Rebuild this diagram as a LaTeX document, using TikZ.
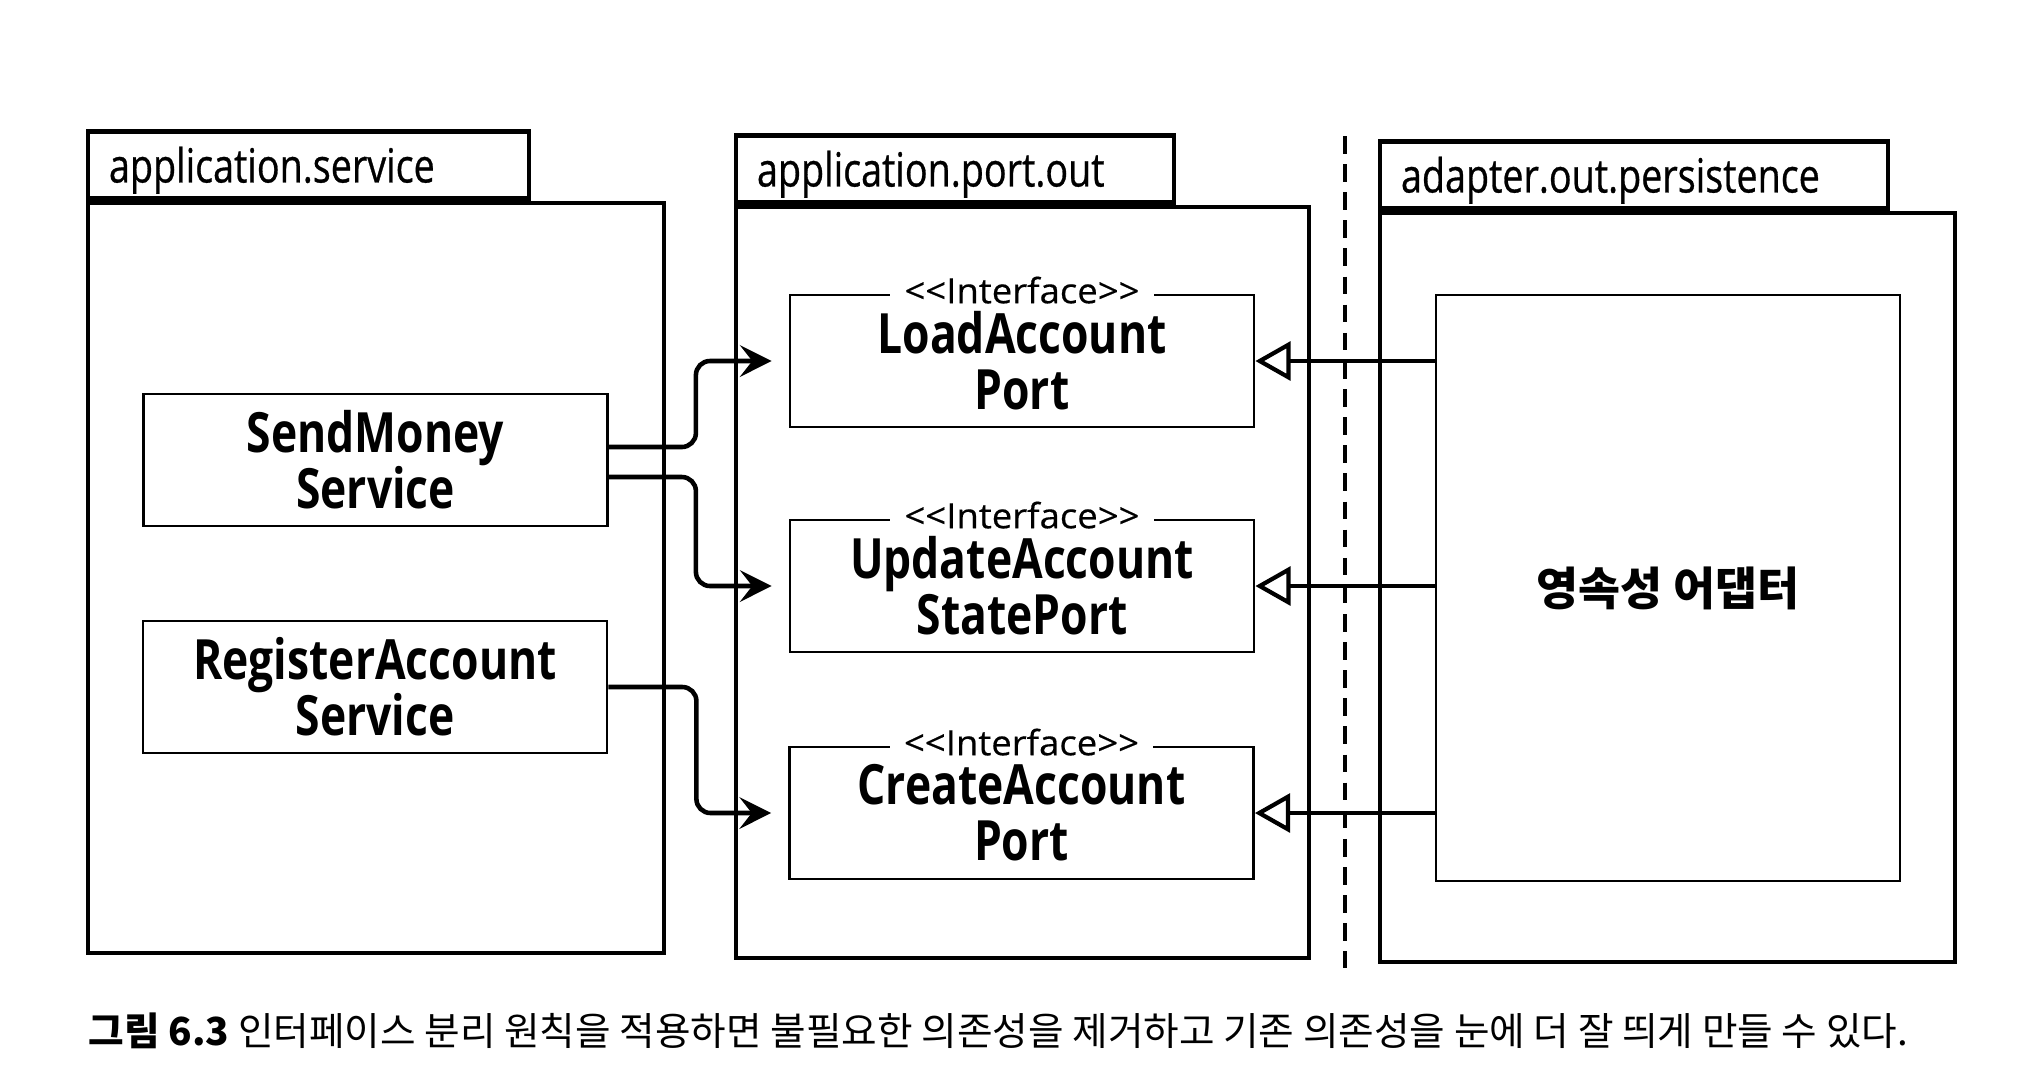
\documentclass[tikz,border=0pt]{standalone}
\usepackage{fontspec}
\usetikzlibrary{arrows.meta,positioning}
\newfontfamily\latinfont{Open Sans}[FakeStretch=0.8]
\newfontfamily\labelfont{Open Sans}[FakeStretch=0.8,FakeBold=0.6]
\newfontfamily\stereofont{Open Sans}[FakeStretch=1.05,FakeBold=0.4]
\newfontfamily\korfont{Noto Sans CJK KR}
\begin{document}
\begin{tikzpicture}[
    pkgbody/.style = {draw, line width=1.4pt, inner sep=0pt},
    pkgtab/.style = {draw, line width=1.4pt, anchor=south west, inner xsep=0.21cm, inner ysep=0pt,
                     minimum height=0.67cm, text depth=0pt, align=left, font=\labelfont\fontsize{13.4}{15}\selectfont},
    classbox/.style = {draw, line width=0.8pt, inner sep=0pt, minimum width=4.64cm, minimum height=1.32cm,
                       align=center, font=\latinfont\bfseries\fontsize{15.8}{16}\selectfont},
    iface/.style = {fill=white, inner xsep=0.14cm, inner ysep=0pt, yshift=1pt, font=\stereofont\fontsize{9.9}{11}\selectfont},
    dep/.style = {line width=1.3pt, -{Stealth[length=9pt,width=9pt,inset=3.5pt]}, rounded corners=4pt, shorten >=0.17cm},
    impl/.style = {line width=1.2pt, -{Triangle[open,length=10pt,width=11pt]}},
    sepline/.style = {line width=1.2pt, dash pattern=on 5pt off 3pt}
]
\useasboundingbox (0,0) rectangle (20.38,-10.64);

% packages
\node[pkgbody, minimum width=5.76cm, minimum height=7.50cm] (svcpkg) at (3.76,-5.78) {};
\node[pkgtab, text width=3.99cm] (svctab) at (svcpkg.north west) {application.service};
\node[pkgbody, minimum width=5.73cm, minimum height=7.51cm] (portpkg) at (10.225,-5.825) {};
\node[pkgtab, text width=3.96cm] (porttab) at (portpkg.north west) {application.port.out};
\node[pkgbody, minimum width=5.75cm, minimum height=7.49cm] (perspkg) at (16.675,-5.875) {};
\node[pkgtab, text width=4.66cm] (perstab) at (perspkg.north west) {adapter.out.persistence};

% services
\node[classbox] (send) at (3.755,-4.60) {SendMoney\\Service};
\node[classbox] (register) at (3.75,-6.87) {RegisterAccount\\Service};

% ports
\node[classbox] (load) at (10.22,-3.61) {LoadAccount\\Port};
\node[classbox] (update) at (10.22,-5.86) {UpdateAccount\\StatePort};
\node[classbox] (create) at (10.215,-8.13) {CreateAccount\\Port};
\foreach \p in {load,update,create}
    \node[iface] at (\p.north) {<<Interface>>};

% adapter
\node[draw, line width=0.8pt, minimum width=4.64cm, minimum height=5.86cm,
      font=\korfont\bfseries\fontsize{13}{15}\selectfont] (adapter) at (16.68,-5.88) {영속성 어댑터};

% boundary
\coordinate (septop) at (13.45,-1.36);
\coordinate (sepbot) at (13.45,-9.68);
\draw[sepline] (septop) -- (sepbot);

% dependencies
\draw[dep] ([yshift=1.3mm]send.east) -- ++(0.87,0) |- (load.west);
\draw[dep] ([yshift=-1.7mm]send.east) -- ++(0.87,0) |- (update.west);
\draw[dep] (register.east) -- ++(0.88,0) |- (create.west);

\draw[impl] (adapter.west |- load.east) -- (load.east);
\draw[impl] (adapter.west |- update.east) -- (update.east);
\draw[impl] (adapter.west |- create.east) -- (create.east);

% caption
\node[anchor=west, inner sep=0pt, font=\korfont\fontsize{11}{12}\selectfont] (caption) at (0.88,-10.31)
    {{\bfseries 그림 6.3} 인터페이스 분리 원칙을 적용하면 불필요한 의존성을 제거하고 기존 의존성을 눈에 더 잘 띄게 만들 수 있다.};
\end{tikzpicture}
\end{document}
